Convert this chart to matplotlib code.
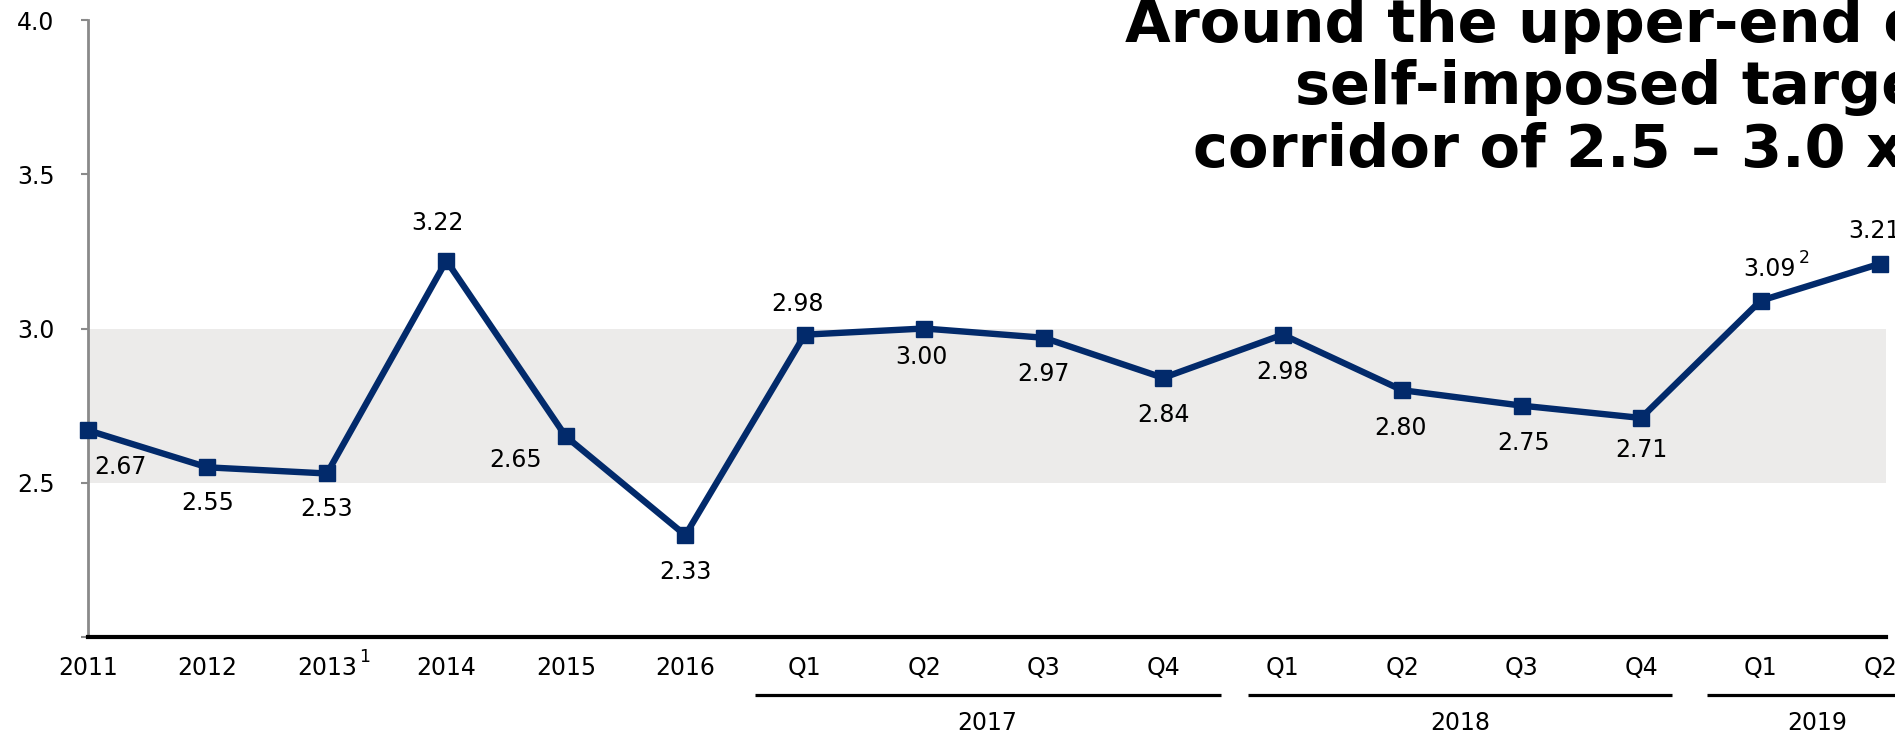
import matplotlib.pyplot as plt

# chart values
periods = ['2011', '2012', '2013', '2014', '2015', '2016',
           'Q1', 'Q2', 'Q3', 'Q4', 'Q1', 'Q2', 'Q3', 'Q4', 'Q1', 'Q2']
ratio = [2.67, 2.55, 2.53, 3.22, 2.65, 2.33,
         2.98, 3.00, 2.97, 2.84, 2.98, 2.80, 2.75, 2.71, 3.09, 3.21]
years = ['2017', '2018', '2019']
year_first = [6, 10, 14]
year_last = [9, 13, 15]
target_low = 2.5
target_high = 3.0
y_ticks = [2.0, 2.5, 3.0, 3.5, 4.0]
y_tick_labels = ['', '2.5', '3.0', '3.5', '4.0']
title_lines = ['Around the upper-end of', 'self-imposed target', 'corridor of 2.5 \u2013 3.0 x']

# layout / style
W, H = 1895, 731
navy = '#022a6b'
band_grey = '#ecebea'
axis_grey = '#8a8a8a'
# label offsets from each point, pixels (dx right, dy down)
label_offsets = [(32, 37), (0, 36), (0, 36), (-9, -38), (-50, 24), (0, 37),
                 (-7, -31), (-3, 28), (0, 36), (0, 37), (0, 37), (-2, 38),
                 (2, 37), (0, 32), (9, -32), (-6, -33)]
span_pad_left = [0.42, 0.29, 0.45]
span_pad_right = [0.48, 0.26, 0.39]
title_pos = [(1125, 42), (1295, 104), (1193, 167)]  # left x, baseline y (px from top)
fs = 17

plt.rcParams['font.family'] = ['DejaVu Sans']

fig = plt.figure(figsize=(W / 100, H / 100), dpi=100)
ax = fig.add_axes([88 / W, 94 / H, (1886 - 88) / W, 617 / H])

x = list(range(len(ratio)))
ax.axhspan(target_low, target_high, color=band_grey, zorder=0, lw=0)
ax.plot(x, ratio, color=navy, lw=4.6, marker='s', ms=11.5, zorder=3, clip_on=False)

for i, v in enumerate(ratio):
    dx, dy = label_offsets[i]
    ax.annotate(f'{v:.2f}', (i, v), xytext=(dx, -dy), textcoords='offset pixels',
                ha='center', va='center', fontsize=fs, color='black', zorder=4)

# footnote marks
ax.annotate('2', (14, ratio[14]), xytext=(44, 43), textcoords='offset pixels',
            ha='center', va='center', fontsize=12.5)
ax.annotate('1', (2, 0), xycoords=ax.get_xaxis_transform(), xytext=(38, -20),
            textcoords='offset pixels', ha='center', va='center', fontsize=12.5,
            annotation_clip=False)

ax.set_xlim(0, 15.05)
ax.set_ylim(2.0, 4.0)
ax.set_yticks(y_ticks)
ax.set_yticklabels(y_tick_labels, fontsize=fs)
ax.set_xticks(x)
ax.set_xticklabels(periods, fontsize=fs)
ax.tick_params(axis='x', length=0, pad=14)
ax.tick_params(axis='y', length=5, width=1.5, color=axis_grey, pad=19)

for s in ['top', 'right']:
    ax.spines[s].set_visible(False)
ax.spines['left'].set_color(axis_grey)
ax.spines['left'].set_linewidth(2)
ax.spines['bottom'].set_color('black')
ax.spines['bottom'].set_linewidth(3)
ax.spines['bottom'].set_zorder(5)

# year groups under the quarters
tr = ax.get_xaxis_transform()
line_y = (637 - 695) / 617
label_y = (637 - 723) / 617
for k, yr in enumerate(years):
    x0 = year_first[k] - span_pad_left[k]
    x1 = year_last[k] + span_pad_right[k]
    ax.plot([x0, x1], [line_y, line_y], color='black', lw=2.3, transform=tr,
            clip_on=False, solid_capstyle='butt')
    ax.text((x0 + x1) / 2, label_y, yr, transform=tr, ha='center', va='center',
            fontsize=fs)

for (tx, ty), line in zip(title_pos, title_lines):
    fig.text(tx / W, 1 - ty / H, line, ha='left', va='baseline',
             fontsize=42.5, fontweight='bold')

fig.savefig('out.png', dpi=100)
